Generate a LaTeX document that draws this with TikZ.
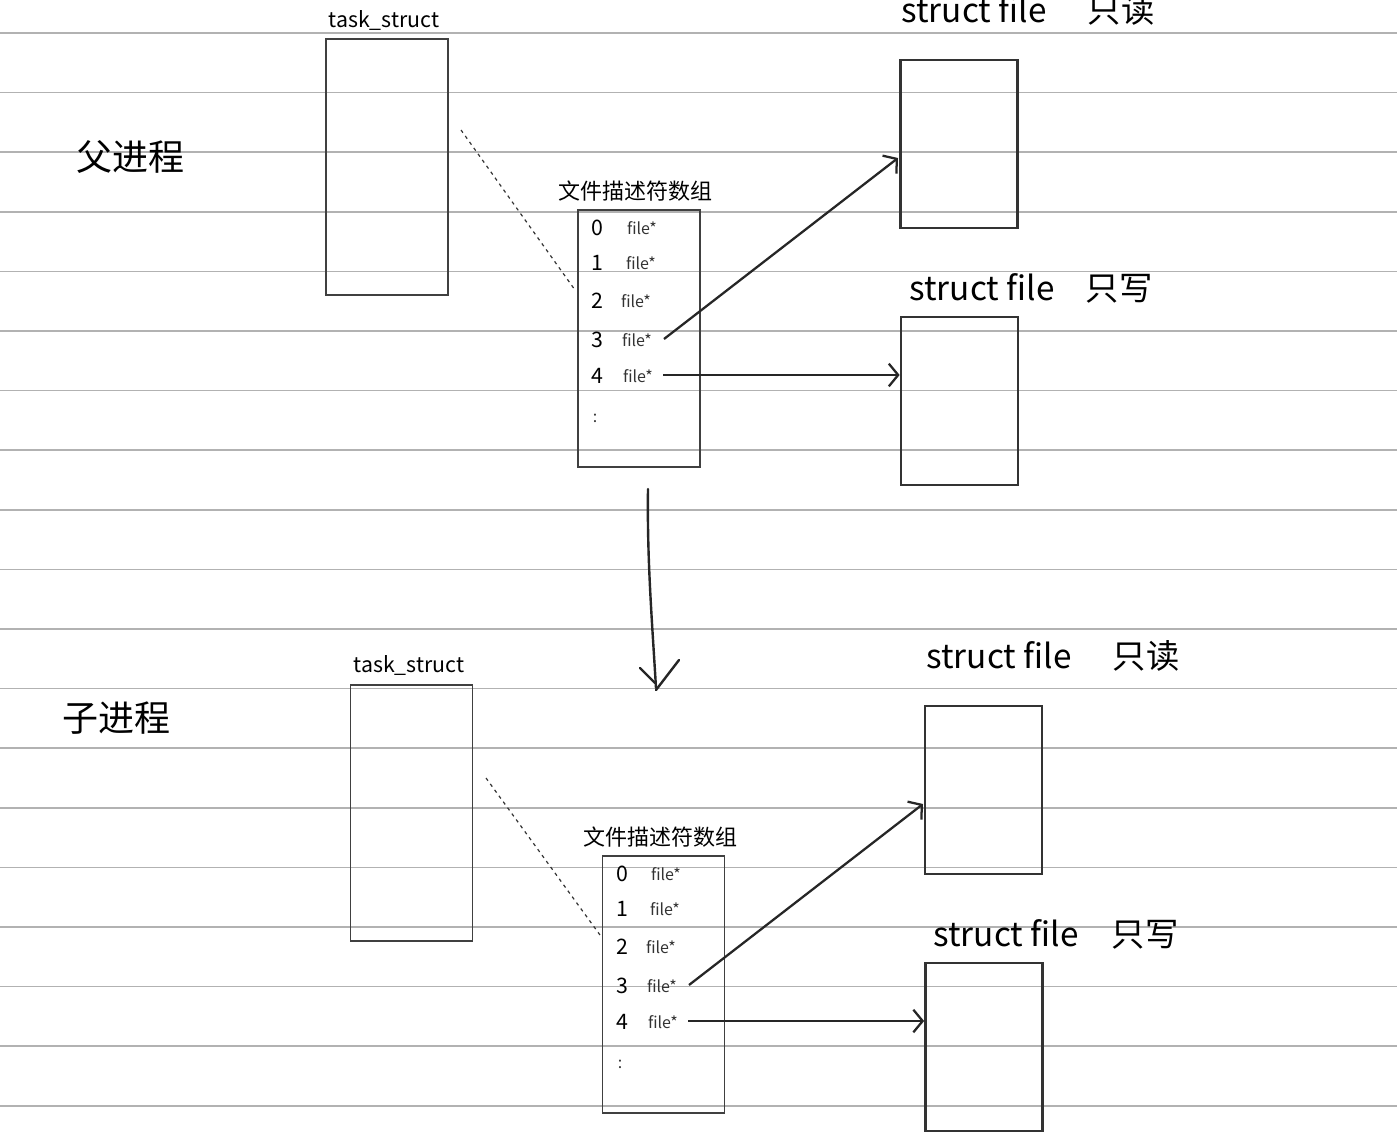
\documentclass[tikz,border=0pt]{standalone}
\usepackage{fontspec}
\setmainfont{Noto Sans CJK SC}
\usetikzlibrary{arrows.meta}
\tikzset{
  ruled/.style={draw=black!30, line width=1.1pt},
  thinbox/.style={draw=black!75, line width=1.1pt},
  filebox/.style={draw=black!80, line width=1.8pt},
  arr/.style={draw=black!85, line width=1.7pt, -{Straight Barb[length=7pt,width=17pt,line width=1.7pt]}},
  dots/.style={draw=black!80, line width=0.9pt, dash pattern=on 2.5pt off 3pt},
  lbl/.style={font=\fontsize{16}{17}\selectfont, inner sep=0pt},
  big/.style={font=\fontsize{25}{26}\selectfont, inner sep=0pt},
  huge/.style={font=\fontsize{27}{28}\selectfont, inner sep=0pt},
  fd/.style={font=\fontsize{16.5}{17}\selectfont, inner sep=0pt},
  fp/.style={font=\fontsize{12}{13}\selectfont, inner sep=0pt, text=black!80},
  dig/.style={font=\fontsize{16}{17}\selectfont, inner sep=0pt},
}
\begin{document}
\begin{tikzpicture}[x=0.75pt,y=-0.75pt]
\useasboundingbox (0,0) rectangle (1397,1147);
\fill[white] (0,0) rectangle (1397,1147);
\foreach \k in {0,...,18} {
  \draw[ruled] (0,{33+59.6*\k}) -- (1397,{33+59.6*\k});
}
% ---------- parent ----------
\node[huge] (pp) at (130,157) {父进程};
\node[lbl] (ts1l) at (384,20) {task\_struct};
\node[thinbox, minimum width=91.5pt, minimum height=192pt, inner sep=0pt] (ts1) at (387,167) {};
\node[fd] (fd1l) at (635,191) {文件描述符数组};
\node[thinbox, minimum width=91.5pt, minimum height=192.5pt, inner sep=0pt] (fd1) at (639,338.5) {};
\coordinate (d1a) at (461,130);
\coordinate (d1b) at (575,290);
\draw[dots] (d1a) -- (d1b);
\foreach \i/\y/\fx in {0/228/642,1/263/641,2/301/636,3/340/637,4/376/638} {
  \node[dig] (n1\i) at (597,\y) {\i};
  \node[fp] (f1\i) at (\fx,\y) {file*};
}
\node[fp] (dd1) at (595,418) {:};
\node[filebox, minimum width=88pt, minimum height=126pt, inner sep=0pt] (sf1) at (959,144) {};
\node[big, anchor=base] (sf1l) at (974,22) {struct file};
\node[big, anchor=base] (sf1c) at (1121,22) {只读};
\node[filebox, minimum width=88pt, minimum height=126pt, inner sep=0pt] (sf2) at (959.5,401) {};
\node[big, anchor=base] (sf2l) at (982,300) {struct file};
\node[big, anchor=base] (sf2c) at (1119,300) {只写};
\coordinate (a1s) at (664,339);
\coordinate (a1e) at (898,158);
\draw[arr] (a1s) -- (a1e);
\coordinate (a2s) at (663,375);
\draw[arr] (a2s) -- (sf2.west |- a2s);
% ---------- down arrow ----------
\coordinate (da) at (648,489);
\coordinate (db) at (656,688);
\coordinate (dl) at (640,668);
\coordinate (dr) at (679,660);
\draw[draw=black!85, line width=1.8pt, line cap=round] (da) .. controls (647,560) and (652,620) .. (db);
\draw[draw=black!85, line width=1.8pt, line cap=round] (dl) -- (655,683);
\draw[draw=black!85, line width=1.8pt, line cap=round] (dr) -- (656,690);
% ---------- child ----------
\node[huge] (cp) at (116,718) {子进程};
\node[lbl] (ts2l) at (409,665) {task\_struct};
\node[thinbox, minimum width=91.5pt, minimum height=192pt, inner sep=0pt] (ts2) at (411.5,813) {};
\node[fd] (fd2l) at (660,837) {文件描述符数组};
\node[thinbox, minimum width=91.5pt, minimum height=192.5pt, inner sep=0pt] (fd2) at (663.5,984.5) {};
\coordinate (d2a) at (486,778);
\coordinate (d2b) at (600,935);
\draw[dots] (d2a) -- (d2b);
\foreach \i/\y/\fx in {0/874/666,1/909/665,2/947/661,3/986/662,4/1022/663} {
  \node[dig] (n2\i) at (622,\y) {\i};
  \node[fp] (f2\i) at (\fx,\y) {file*};
}
\node[fp] (dd2) at (620,1064) {:};
\node[filebox, minimum width=88pt, minimum height=126pt, inner sep=0pt] (sf3) at (983.5,790) {};
\node[big, anchor=base] (sf3l) at (999,668) {struct file};
\node[big, anchor=base] (sf3c) at (1146,668) {只读};
\node[filebox, minimum width=88pt, minimum height=126pt, inner sep=0pt] (sf4) at (984,1047) {};
\node[big, anchor=base] (sf4l) at (1006,946) {struct file};
\node[big, anchor=base] (sf4c) at (1145,946) {只写};
\coordinate (a3s) at (689,985);
\coordinate (a3e) at (923,804);
\draw[arr] (a3s) -- (a3e);
\coordinate (a4s) at (688,1021);
\draw[arr] (a4s) -- (sf4.west |- a4s);
\end{tikzpicture}
\end{document}
